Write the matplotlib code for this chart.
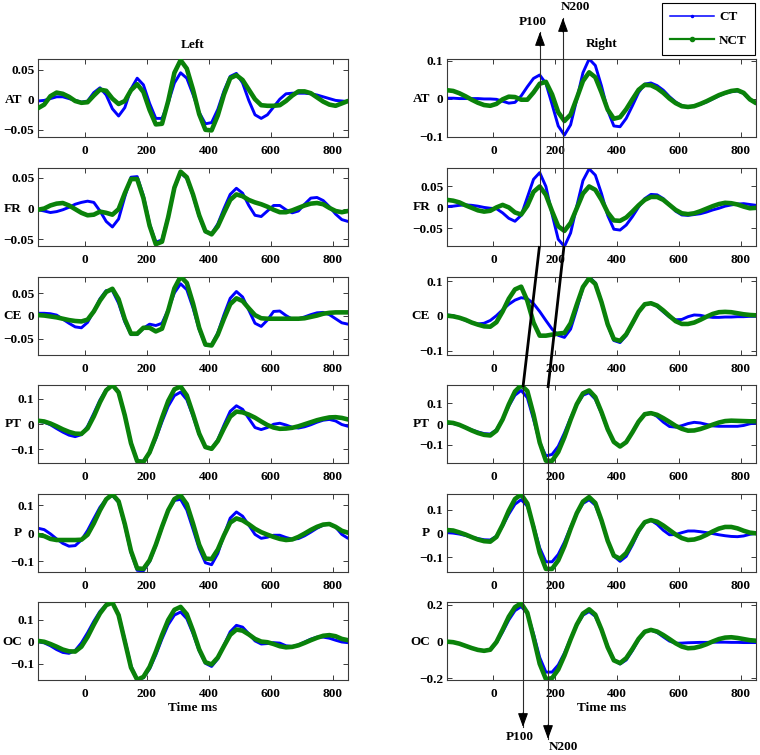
import numpy as np
import matplotlib
matplotlib.use('Agg')
import matplotlib.pyplot as plt
from matplotlib.lines import Line2D
from matplotlib.patches import FancyArrowPatch, ArrowStyle
from matplotlib.transforms import blended_transform_factory

plt.rcParams['font.family'] = ['Liberation Serif', 'DejaVu Serif']
plt.rcParams['font.weight'] = 'bold'
plt.rcParams['font.size'] = 9.5

# ---------------- data ----------------
time_ms = np.arange(-150, 851, 20)
channels = ['AT', 'FR', 'CE', 'PT', 'P', 'OC']
xticks = [0, 200, 400, 600, 800]

ct_l_at = [-0.002, -0.001, 0.002, 0.005, 0.005, 0.002, -0.001, -0.004, -0.002, 0.012, 0.020, 0.008, -0.015, -0.027, -0.013, 0.018, 0.036, 0.025, -0.006, -0.031, -0.031, -0.005, 0.028, 0.045, 0.036, 0.009, -0.021, -0.040, -0.038, -0.016, 0.015, 0.039, 0.044, 0.028, -0.001, -0.025, -0.031, -0.025, -0.012, 0.001, 0.010, 0.011, 0.011, 0.011, 0.010, 0.008, 0.005, 0.002, -0.001, -0.002, -0.003]
nct_l_at = [-0.014, -0.008, 0.006, 0.012, 0.010, 0.005, -0.002, -0.005, -0.004, 0.007, 0.017, 0.015, 0.002, -0.007, -0.002, 0.016, 0.026, 0.013, -0.017, -0.041, -0.040, -0.002, 0.045, 0.066, 0.052, 0.017, -0.024, -0.050, -0.051, -0.026, 0.009, 0.036, 0.041, 0.033, 0.017, 0.001, -0.009, -0.010, -0.010, -0.009, -0.002, 0.007, 0.014, 0.014, 0.011, 0.004, -0.003, -0.008, -0.010, -0.006, -0.002]
ct_l_fr = [-0.002, -0.004, -0.0065, -0.005, -0.002, 0.002, 0.007, 0.010, 0.012, 0.010, -0.004, -0.021, -0.030, -0.017, 0.019, 0.051, 0.052, 0.021, -0.025, -0.055, -0.051, -0.013, 0.033, 0.058, 0.049, 0.021, -0.013, -0.038, -0.041, -0.025, 0.000, 0.023, 0.033, 0.025, 0.005, -0.011, -0.013, -0.004, 0.005, 0.005, -0.002, -0.007, -0.004, 0.007, 0.017, 0.018, 0.013, 0.003, -0.009, -0.018, -0.021]
nct_l_fr = [-0.002, 0.000, 0.005, 0.008, 0.009, 0.005, -0.001, -0.007, -0.011, -0.010, -0.005, -0.007, -0.010, -0.001, 0.025, 0.048, 0.048, 0.017, -0.028, -0.058, -0.054, -0.014, 0.034, 0.060, 0.051, 0.023, -0.011, -0.037, -0.042, -0.029, -0.007, 0.014, 0.023, 0.020, 0.014, 0.010, 0.007, 0.003, -0.002, -0.006, -0.006, -0.003, 0.001, 0.005, 0.008, 0.009, 0.007, 0.001, -0.004, -0.006, -0.004]
ct_l_ce = [0.006, 0.006, 0.005, 0.002, -0.007, -0.016, -0.024, -0.026, -0.014, 0.011, 0.038, 0.056, 0.056, 0.028, -0.013, -0.041, -0.041, -0.027, -0.018, -0.021, -0.016, 0.014, 0.051, 0.071, 0.058, 0.018, -0.030, -0.064, -0.064, -0.037, 0.003, 0.039, 0.054, 0.042, 0.013, -0.016, -0.023, -0.009, 0.010, 0.011, 0.001, -0.007, -0.006, -0.002, 0.003, 0.007, 0.008, 0.003, -0.006, -0.015, -0.018]
nct_l_ce = [0.002, 0.001, -0.001, -0.003, -0.006, -0.009, -0.011, -0.012, -0.008, 0.010, 0.034, 0.053, 0.060, 0.037, -0.007, -0.039, -0.039, -0.026, -0.026, -0.034, -0.028, 0.012, 0.061, 0.087, 0.073, 0.028, -0.026, -0.063, -0.065, -0.041, -0.006, 0.026, 0.039, 0.033, 0.017, 0.002, -0.005, -0.006, -0.006, -0.006, -0.006, -0.006, -0.006, -0.005, -0.002, 0.001, 0.005, 0.007, 0.008, 0.008, 0.008]
ct_l_pt = [0.011, 0.007, -0.003, -0.018, -0.032, -0.044, -0.050, -0.042, -0.009, 0.042, 0.095, 0.136, 0.154, 0.126, 0.035, -0.074, -0.144, -0.147, -0.114, -0.058, 0.009, 0.070, 0.112, 0.126, 0.096, 0.031, -0.042, -0.092, -0.098, -0.062, -0.004, 0.050, 0.072, 0.058, 0.022, -0.014, -0.022, -0.014, -0.001, 0.003, -0.004, -0.013, -0.016, -0.011, -0.003, 0.007, 0.015, 0.018, 0.012, -0.002, -0.009]
nct_l_pt = [0.013, 0.010, 0.002, -0.009, -0.021, -0.031, -0.038, -0.039, -0.017, 0.030, 0.086, 0.133, 0.154, 0.125, 0.034, -0.076, -0.147, -0.150, -0.112, -0.049, 0.024, 0.091, 0.137, 0.148, 0.113, 0.040, -0.038, -0.091, -0.098, -0.067, -0.017, 0.029, 0.049, 0.046, 0.037, 0.025, 0.010, -0.004, -0.014, -0.019, -0.018, -0.015, -0.009, -0.001, 0.007, 0.015, 0.021, 0.026, 0.027, 0.024, 0.018]
ct_l_p = [0.018, 0.013, -0.002, -0.020, -0.036, -0.046, -0.044, -0.024, 0.010, 0.052, 0.093, 0.122, 0.135, 0.110, 0.028, -0.069, -0.132, -0.134, -0.101, -0.044, 0.021, 0.081, 0.117, 0.121, 0.083, 0.015, -0.055, -0.105, -0.112, -0.072, -0.006, 0.054, 0.076, 0.061, 0.029, -0.004, -0.018, -0.014, -0.007, -0.007, -0.015, -0.021, -0.019, -0.009, 0.004, 0.018, 0.029, 0.033, 0.022, -0.004, -0.018]
nct_l_p = [-0.006, -0.010, -0.020, -0.024, -0.024, -0.024, -0.024, -0.023, -0.005, 0.035, 0.082, 0.121, 0.139, 0.114, 0.033, -0.063, -0.125, -0.127, -0.096, -0.041, 0.023, 0.082, 0.122, 0.135, 0.104, 0.035, -0.041, -0.090, -0.092, -0.058, -0.007, 0.038, 0.053, 0.046, 0.032, 0.016, 0.004, -0.005, -0.013, -0.020, -0.024, -0.022, -0.013, -0.001, 0.012, 0.023, 0.031, 0.033, 0.023, 0.009, 0.002]
ct_l_oc = [0.000, -0.005, -0.018, -0.035, -0.048, -0.052, -0.039, -0.005, 0.041, 0.092, 0.137, 0.167, 0.176, 0.122, 0.009, -0.109, -0.170, -0.162, -0.122, -0.059, 0.013, 0.077, 0.120, 0.134, 0.104, 0.037, -0.041, -0.097, -0.111, -0.077, -0.015, 0.045, 0.074, 0.066, 0.036, 0.004, -0.010, -0.008, -0.004, -0.006, -0.018, -0.021, -0.014, -0.001, 0.012, 0.021, 0.021, 0.016, 0.007, -0.001, -0.004]
nct_l_oc = [0.004, 0.000, -0.010, -0.022, -0.035, -0.043, -0.044, -0.022, 0.022, 0.077, 0.128, 0.165, 0.176, 0.120, 0.002, -0.116, -0.171, -0.158, -0.113, -0.045, 0.030, 0.098, 0.144, 0.157, 0.124, 0.050, -0.034, -0.092, -0.102, -0.071, -0.019, 0.031, 0.055, 0.050, 0.033, 0.013, 0.001, -0.002, -0.010, -0.020, -0.025, -0.023, -0.016, -0.005, 0.007, 0.018, 0.027, 0.030, 0.025, 0.013, 0.007]

ct_r_at = [0.001, 0.001, 0.000, 0.000, 0.000, 0.000, -0.001, -0.001, -0.002, -0.007, -0.012, -0.010, 0.007, 0.031, 0.053, 0.062, 0.040, -0.015, -0.072, -0.096, -0.069, -0.002, 0.068, 0.104, 0.087, 0.033, -0.031, -0.072, -0.074, -0.052, -0.019, 0.016, 0.038, 0.041, 0.034, 0.022, 0.005, -0.009, -0.019, -0.022, -0.020, -0.015, -0.009, -0.001, 0.007, 0.014, 0.018, 0.020, 0.014, -0.003, -0.012]
nct_r_at = [0.022, 0.020, 0.014, 0.006, -0.003, -0.011, -0.017, -0.019, -0.014, -0.002, 0.005, 0.004, -0.003, -0.003, 0.016, 0.039, 0.044, 0.011, -0.036, -0.059, -0.042, 0.001, 0.046, 0.069, 0.056, 0.016, -0.029, -0.053, -0.049, -0.028, -0.002, 0.023, 0.036, 0.035, 0.027, 0.015, 0.000, -0.012, -0.020, -0.022, -0.020, -0.014, -0.007, 0.001, 0.009, 0.015, 0.020, 0.022, 0.015, -0.002, -0.012]
ct_r_fr = [0.002, 0.003, 0.005, 0.006, 0.005, 0.003, 0.000, -0.002, -0.003, -0.013, -0.026, -0.033, -0.019, 0.024, 0.067, 0.083, 0.050, -0.016, -0.076, -0.093, -0.061, 0.003, 0.064, 0.092, 0.077, 0.033, -0.019, -0.052, -0.054, -0.042, -0.022, 0.001, 0.021, 0.031, 0.030, 0.021, 0.006, -0.009, -0.018, -0.019, -0.017, -0.015, -0.011, -0.006, -0.002, 0.003, 0.006, 0.008, 0.009, 0.007, 0.005]
nct_r_fr = [0.018, 0.016, 0.012, 0.005, -0.001, -0.007, -0.010, -0.008, 0.000, 0.006, 0.000, -0.012, -0.017, 0.004, 0.037, 0.050, 0.030, -0.009, -0.045, -0.056, -0.037, -0.002, 0.033, 0.050, 0.042, 0.018, -0.012, -0.031, -0.032, -0.024, -0.010, 0.005, 0.018, 0.025, 0.025, 0.018, 0.006, -0.006, -0.014, -0.016, -0.014, -0.009, -0.003, 0.003, 0.008, 0.011, 0.010, 0.007, 0.002, -0.002, -0.001]
ct_r_ce = [0.003, 0.001, -0.005, -0.013, -0.019, -0.023, -0.021, -0.013, 0.001, 0.018, 0.034, 0.046, 0.053, 0.050, 0.036, 0.013, -0.013, -0.038, -0.056, -0.062, -0.038, 0.020, 0.082, 0.113, 0.096, 0.041, -0.026, -0.071, -0.077, -0.057, -0.023, 0.011, 0.034, 0.037, 0.028, 0.012, -0.003, -0.011, -0.010, -0.002, 0.003, 0.002, -0.002, -0.004, -0.004, -0.003, -0.003, -0.002, -0.002, -0.001, -0.001]
nct_r_ce = [0.001, -0.001, -0.005, -0.011, -0.019, -0.025, -0.030, -0.031, -0.018, 0.013, 0.050, 0.077, 0.085, 0.044, -0.019, -0.057, -0.057, -0.054, -0.051, -0.049, -0.021, 0.033, 0.084, 0.109, 0.093, 0.040, -0.024, -0.067, -0.072, -0.053, -0.021, 0.012, 0.034, 0.037, 0.030, 0.016, 0.000, -0.015, -0.023, -0.023, -0.019, -0.011, -0.002, 0.006, 0.011, 0.012, 0.011, 0.008, 0.005, 0.003, 0.002]
ct_r_pt = [0.005, 0.002, -0.005, -0.016, -0.028, -0.038, -0.046, -0.048, -0.028, 0.024, 0.086, 0.138, 0.161, 0.126, 0.023, -0.089, -0.153, -0.146, -0.107, -0.043, 0.029, 0.092, 0.138, 0.150, 0.119, 0.051, -0.028, -0.087, -0.108, -0.087, -0.039, 0.013, 0.049, 0.054, 0.036, 0.009, -0.012, -0.015, -0.008, 0.002, 0.008, 0.005, -0.002, -0.009, -0.011, -0.011, -0.011, -0.011, -0.007, 0.001, 0.005]
nct_r_pt = [0.008, 0.005, -0.004, -0.017, -0.031, -0.043, -0.052, -0.055, -0.032, 0.022, 0.094, 0.156, 0.186, 0.158, 0.046, -0.089, -0.176, -0.177, -0.134, -0.063, 0.020, 0.095, 0.147, 0.161, 0.129, 0.057, -0.025, -0.086, -0.108, -0.087, -0.040, 0.011, 0.047, 0.052, 0.044, 0.028, 0.010, -0.009, -0.023, -0.032, -0.031, -0.024, -0.014, -0.003, 0.007, 0.014, 0.016, 0.015, 0.014, 0.013, 0.013]
ct_r_p = [0.003, 0.001, -0.003, -0.009, -0.016, -0.022, -0.027, -0.028, -0.012, 0.031, 0.081, 0.123, 0.142, 0.115, 0.033, -0.061, -0.120, -0.120, -0.089, -0.037, 0.026, 0.083, 0.126, 0.142, 0.119, 0.051, -0.031, -0.096, -0.118, -0.097, -0.049, 0.006, 0.046, 0.055, 0.038, 0.013, -0.006, -0.005, 0.003, 0.010, 0.010, 0.007, 0.003, -0.001, -0.006, -0.010, -0.013, -0.014, -0.011, -0.004, 0.000]
nct_r_p = [0.014, 0.012, 0.004, -0.005, -0.016, -0.026, -0.033, -0.035, -0.015, 0.036, 0.096, 0.145, 0.164, 0.126, 0.026, -0.082, -0.150, -0.150, -0.114, -0.054, 0.019, 0.085, 0.134, 0.153, 0.128, 0.055, -0.031, -0.094, -0.107, -0.083, -0.037, 0.012, 0.047, 0.056, 0.049, 0.033, 0.014, -0.005, -0.020, -0.028, -0.026, -0.018, -0.006, 0.008, 0.020, 0.027, 0.027, 0.021, 0.011, 0.003, 0.000]
ct_r_oc = [0.000, -0.003, -0.011, -0.023, -0.035, -0.045, -0.050, -0.044, -0.007, 0.053, 0.118, 0.169, 0.191, 0.155, 0.042, -0.086, -0.166, -0.166, -0.127, -0.062, 0.017, 0.090, 0.144, 0.164, 0.138, 0.064, -0.026, -0.098, -0.122, -0.100, -0.049, 0.010, 0.053, 0.063, 0.050, 0.026, 0.003, -0.009, -0.008, -0.006, -0.005, -0.004, -0.004, -0.003, -0.003, -0.003, -0.004, -0.004, -0.005, -0.005, -0.005]
nct_r_oc = [0.000, -0.003, -0.011, -0.023, -0.035, -0.045, -0.050, -0.044, -0.002, 0.065, 0.136, 0.188, 0.209, 0.157, 0.023, -0.121, -0.204, -0.199, -0.152, -0.076, 0.012, 0.093, 0.153, 0.176, 0.147, 0.066, -0.031, -0.102, -0.117, -0.090, -0.040, 0.015, 0.054, 0.064, 0.055, 0.036, 0.014, -0.009, -0.027, -0.036, -0.034, -0.026, -0.014, 0.001, 0.014, 0.022, 0.024, 0.020, 0.014, 0.008, 0.005]

left_ct = [ct_l_at, ct_l_fr, ct_l_ce, ct_l_pt, ct_l_p, ct_l_oc]
left_nct = [nct_l_at, nct_l_fr, nct_l_ce, nct_l_pt, nct_l_p, nct_l_oc]
right_ct = [ct_r_at, ct_r_fr, ct_r_ce, ct_r_pt, ct_r_p, ct_r_oc]
right_nct = [nct_r_at, nct_r_fr, nct_r_ce, nct_r_pt, nct_r_p, nct_r_oc]

left_ylim = [(-0.062, 0.068), (-0.061, 0.066), (-0.086, 0.086), (-0.154, 0.154), (-0.138, 0.140), (-0.172, 0.179)]
right_ylim = [(-0.101, 0.104), (-0.092, 0.094), (-0.113, 0.113), (-0.187, 0.187), (-0.163, 0.166), (-0.209, 0.216)]
left_yticks = [[-0.05, 0, 0.05], [-0.05, 0, 0.05], [-0.05, 0, 0.05], [-0.1, 0, 0.1], [-0.1, 0, 0.1], [-0.1, 0, 0.1]]
right_yticks = [[-0.1, 0, 0.1], [-0.05, 0, 0.05], [-0.1, 0, 0.1], [-0.1, 0, 0.1], [-0.1, 0, 0.1], [-0.2, 0, 0.2]]

# ---------------- layout ----------------
W, H = 760, 755
fig = plt.figure(figsize=(W / 100, H / 100), dpi=100)
row_tops = [59, 168, 277, 385, 494, 602]
ax_h = 78
cols = [(38, 348), (447, 756)]
BLUE = '#0000ff'
GREEN = '#0a820a'
FRAME = '#3a3a3a'


def fmt(v):
    return ('%g' % v).replace('-', '\u2212')


axes_grid = []
for ci, (x0, x1) in enumerate(cols):
    cts = left_ct if ci == 0 else right_ct
    ncts = left_nct if ci == 0 else right_nct
    ylims = left_ylim if ci == 0 else right_ylim
    ytks = left_yticks if ci == 0 else right_yticks
    col_axes = []
    for ri, top in enumerate(row_tops):
        ax = fig.add_axes([x0 / W, 1 - (top + ax_h) / H, (x1 - x0) / W, ax_h / H])
        ax.plot(time_ms, cts[ri], color=BLUE, lw=2.1, zorder=2,
                solid_joinstyle='round', solid_capstyle='round')
        ax.plot(time_ms, ncts[ri], color=GREEN, lw=3.3, zorder=3,
                solid_joinstyle='round', solid_capstyle='round')
        ax.set_xlim(-150, 850)
        ax.set_ylim(*ylims[ri])
        ax.set_xticks(xticks)
        ax.set_xticklabels([str(v) for v in xticks])
        ax.set_yticks(ytks[ri])
        ax.set_yticklabels([fmt(v) for v in ytks[ri]])
        ax.tick_params(direction='in', top=True, right=True, length=3.5, width=0.7,
                       color=FRAME, labelcolor='black', labelsize=9.5)
        ax.tick_params(axis='x', pad=5.5)
        ax.tick_params(axis='y', pad=2.5)
        for sp in ax.spines.values():
            sp.set_color(FRAME)
            sp.set_linewidth(0.8)
        trans = blended_transform_factory(ax.transAxes, ax.transData)
        lx = -0.052 if ci == 0 else -0.055
        ax.text(lx, 0, channels[ri], transform=trans, ha='right', va='center',
                fontsize=9.5, fontweight='bold')
        col_axes.append(ax)
    axes_grid.append(col_axes)

axes_grid[0][0].text(0.5, 1.18, 'Left', transform=axes_grid[0][0].transAxes,
                     ha='center', va='center', fontsize=9.5, fontweight='bold')
axes_grid[1][0].text(0.5, 1.19, 'Right', transform=axes_grid[1][0].transAxes,
                     ha='center', va='center', fontsize=9.5, fontweight='bold')
for ci in range(2):
    axes_grid[ci][-1].text(0.5, -0.355, 'Time ms', transform=axes_grid[ci][-1].transAxes,
                           ha='center', va='center', fontsize=9.5, fontweight='bold')

# ---------------- legend ----------------
handles = [Line2D([], [], color=BLUE, lw=1.1, marker='.', markersize=3),
           Line2D([], [], color=GREEN, lw=1.6, marker='.', markersize=6)]
leg = fig.legend(handles, ['CT', 'NCT'], loc='upper right',
                 bbox_to_anchor=(755 / W, 1 - 3 / H), frameon=True, fancybox=False,
                 edgecolor='black', framealpha=1, handlelength=3.3, handletextpad=0.4,
                 labelspacing=0.85, borderpad=0.6, borderaxespad=0,
                 prop={'weight': 'bold', 'size': 9.5})
leg.get_frame().set_linewidth(0.8)


# ---------------- P100 / N200 annotations ----------------
def fpt(x, y):
    return (x / W, 1 - y / H)


LINE_C = '#2a2a2a'
astyle = ArrowStyle('-|>', head_length=0.6, head_width=0.22)
arrows = [((540, 246), (540, 32)), ((563, 246), (563, 18)),
          ((523, 387), (523, 727)), ((548, 388), (548, 739))]
for a, b in arrows:
    xa, ya = fpt(*a)
    xb, yb = fpt(*b)
    fig.add_artist(Line2D([xa, xb], [ya, yb], transform=fig.transFigure,
                          color=LINE_C, lw=0.8, zorder=10))
    # arrow head drawn in black at the tip
    sgn = 1 if b[1] < a[1] else -1
    fig.add_artist(FancyArrowPatch(fpt(b[0], b[1] + sgn * 14), fpt(*b),
                                   transform=fig.transFigure, arrowstyle=astyle,
                                   mutation_scale=14, color='black', lw=0.8,
                                   shrinkA=0, shrinkB=0, zorder=10))
for a, b in [((539.5, 246), (523, 387)), ((564, 246), (548, 388))]:
    xa, ya = fpt(*a)
    xb, yb = fpt(*b)
    fig.add_artist(Line2D([xa, xb], [ya, yb], transform=fig.transFigure,
                          color='black', lw=2.0, zorder=11, solid_capstyle='butt'))

for (x, y), s in [((533, 22), 'P100'), ((575, 7), 'N200'),
                  ((520, 737), 'P100'), ((563, 747), 'N200')]:
    fig.text(*fpt(x, y), s, ha='center', va='center', fontsize=9.5, fontweight='bold')

fig.savefig('out.png', dpi=100)
